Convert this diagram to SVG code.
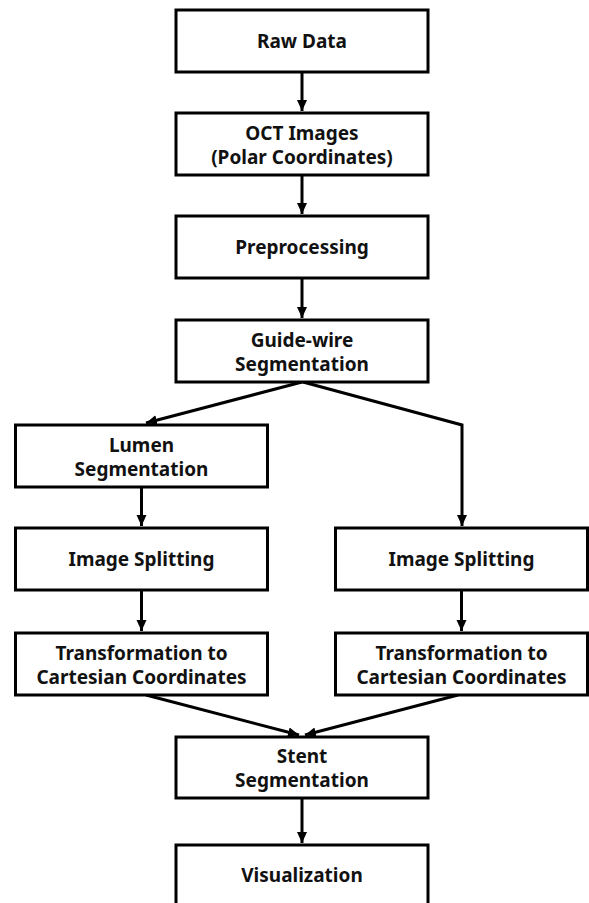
<svg xmlns="http://www.w3.org/2000/svg" width="589" height="903" viewBox="0 0 589 903">
<style>
.box{fill:#fff;stroke:#000;stroke-width:3}
.t{font-family:"Noto Sans","Open Sans","DejaVu Sans",sans-serif;font-weight:bold;font-size:19px;fill:#111;text-anchor:middle}
.c{fill:none;stroke:#000;stroke-width:3;stroke-linejoin:miter}
</style>
<defs>
<marker id="ah" markerUnits="userSpaceOnUse" markerWidth="12" markerHeight="12" viewBox="0 0 12 12" refX="11" refY="6" orient="auto">
<path d="M0,1 L11,6 L0,11 Z" fill="#000"/>
</marker>
</defs>
<rect width="589" height="903" fill="#fff"/>
<g id="connectors">
<line class="c" x1="302" y1="72" x2="302" y2="111" marker-end="url(#ah)"/>
<line class="c" x1="302" y1="175" x2="302" y2="214" marker-end="url(#ah)"/>
<line class="c" x1="302" y1="278" x2="302" y2="318" marker-end="url(#ah)"/>
<polyline class="c" points="302,382 146,423" marker-end="url(#ah)"/>
<polyline class="c" points="303,382 462,425 462,526" marker-end="url(#ah)"/>
<line class="c" x1="141.5" y1="487" x2="141.5" y2="526" marker-end="url(#ah)"/>
<line class="c" x1="141.5" y1="590" x2="141.5" y2="631" marker-end="url(#ah)"/>
<line class="c" x1="461.5" y1="590" x2="461.5" y2="631" marker-end="url(#ah)"/>
<line class="c" x1="146" y1="695" x2="299" y2="735" marker-end="url(#ah)"/>
<line class="c" x1="458" y1="695" x2="305" y2="735" marker-end="url(#ah)"/>
<line class="c" x1="302" y1="798" x2="302" y2="843" marker-end="url(#ah)"/>
</g>
<g id="raw-data"><rect class="box" x="176" y="10" width="252" height="62"/><text class="t" x="302" y="48">Raw Data</text></g>
<g id="oct-images"><rect class="box" x="176" y="113" width="252" height="62"/><text class="t" x="302" y="140">OCT Images</text><text class="t" x="302" y="164">(Polar Coordinates)</text></g>
<g id="preprocessing"><rect class="box" x="176" y="216" width="252" height="62"/><text class="t" x="302" y="254">Preprocessing</text></g>
<g id="guide-wire"><rect class="box" x="176" y="320" width="252" height="62"/><text class="t" x="302" y="347">Guide-wire</text><text class="t" x="302" y="371">Segmentation</text></g>
<g id="lumen"><rect class="box" x="15.5" y="425" width="252" height="62"/><text class="t" x="141.5" y="452">Lumen</text><text class="t" x="141.5" y="476">Segmentation</text></g>
<g id="split-left"><rect class="box" x="15.5" y="528" width="252" height="62"/><text class="t" x="141.5" y="566">Image Splitting</text></g>
<g id="split-right"><rect class="box" x="335.5" y="528" width="252" height="62"/><text class="t" x="461.5" y="566">Image Splitting</text></g>
<g id="transform-left"><rect class="box" x="15.5" y="633" width="252" height="62"/><text class="t" x="141.5" y="660">Transformation to</text><text class="t" x="141.5" y="684">Cartesian Coordinates</text></g>
<g id="transform-right"><rect class="box" x="335.5" y="633" width="252" height="62"/><text class="t" x="461.5" y="660">Transformation to</text><text class="t" x="461.5" y="684">Cartesian Coordinates</text></g>
<g id="stent"><rect class="box" x="176" y="737" width="252" height="61"/><text class="t" x="302" y="763">Stent</text><text class="t" x="302" y="787">Segmentation</text></g>
<g id="visualization"><rect class="box" x="176" y="845" width="252" height="70"/><text class="t" x="302" y="882">Visualization</text></g>
</svg>
